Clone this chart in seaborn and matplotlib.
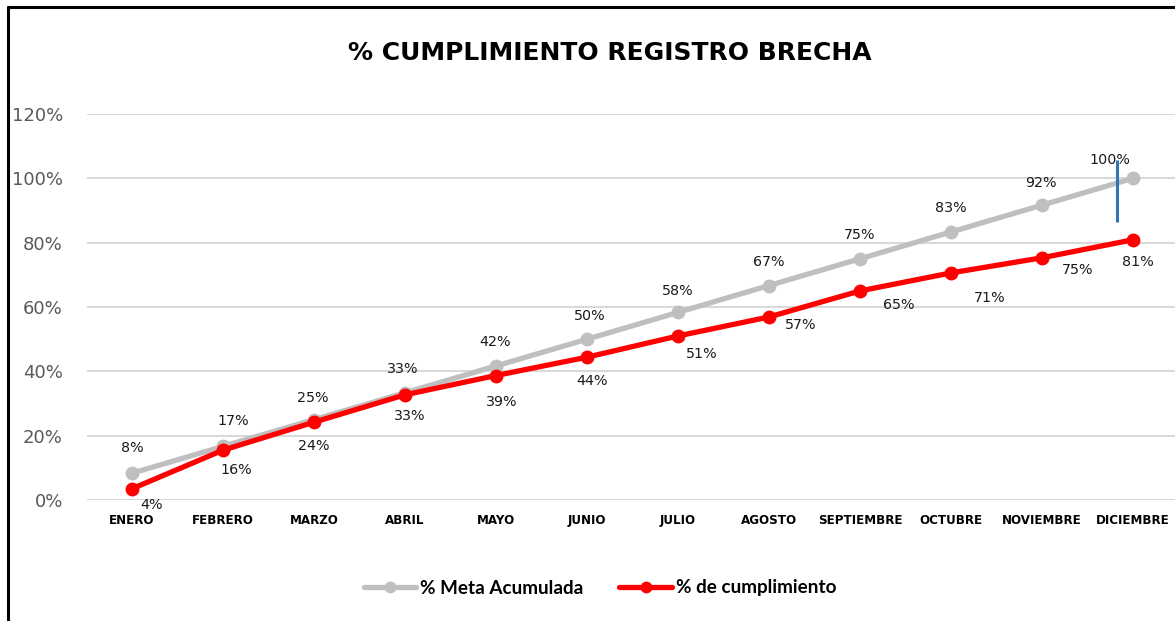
import matplotlib
matplotlib.use("Agg")
import matplotlib.pyplot as plt
from matplotlib.lines import Line2D
from matplotlib.ticker import FuncFormatter
import seaborn as sns
import pandas as pd

months = ["ENERO", "FEBRERO", "MARZO", "ABRIL", "MAYO", "JUNIO", "JULIO",
          "AGOSTO", "SEPTIEMBRE", "OCTUBRE", "NOVIEMBRE", "DICIEMBRE"]
meta = [8.33, 16.67, 25.0, 33.33, 41.67, 50.0, 58.33, 66.67, 75.0, 83.33, 91.67, 100.0]
cumpl = [3.5, 15.5, 24.2, 32.7, 38.7, 44.4, 51.0, 56.9, 65.0, 70.6, 75.3, 80.9]
meta_labels = ["8%", "17%", "25%", "33%", "42%", "50%", "58%", "67%", "75%", "83%", "92%", "100%"]
cumpl_labels = ["4%", "16%", "24%", "33%", "39%", "44%", "51%", "57%", "65%", "71%", "75%", "81%"]
series_names = ["% Meta Acumulada", "% de cumplimiento"]

sns.set_theme(style="white")
plt.rcParams["font.family"] = ["DejaVu Sans"]

fig = plt.figure(figsize=(11.75, 6.21), dpi=100)
ax = fig.add_axes([86.5 / 1175, 121 / 621, 1092 / 1175, 386 / 621])

idx = list(range(len(months)))
df = pd.DataFrame({
    "x": idx * 2,
    "y": meta + cumpl,
    "serie": [series_names[0]] * 12 + [series_names[1]] * 12,
})
palette = {series_names[0]: "#BFBFBF", series_names[1]: "#FF0000"}
sns.lineplot(data=df, x="x", y="y", hue="serie", palette=palette, marker="o",
             markersize=10, linewidth=3.8, markeredgewidth=0, ax=ax, legend=False)

ax.set_xlim(-0.5, 11.5)
ax.set_ylim(0, 120)
ax.set_yticks([0, 20, 40, 60, 80, 100, 120])
ax.yaxis.set_major_formatter(FuncFormatter(lambda v, p: f"{int(v)}%"))
ax.set_xticks(idx)
ax.set_xticklabels(months, fontsize=8.6, fontweight="bold", color="black")
ax.tick_params(axis="y", labelsize=13, labelcolor="#595959", length=0, pad=17)
ax.tick_params(axis="x", length=0, pad=10)
ax.grid(axis="y", color="#D9D9D9", linewidth=1.5)
ax.set_axisbelow(True)
for s in ax.spines.values():
    s.set_visible(False)
ax.set_xlabel("")
ax.set_ylabel("")

# data labels
meta_off = [(0, 25), (10, 25), (-1, 22), (-2, 24), (-1, 24), (3, 23), (0, 21),
            (0, 24), (0, 24), (0, 24), (-1, 22), (-23, 18)]
cumpl_off = [(20, -16), (13, -20), (0, -24), (5, -21), (6, -26), (5, -24), (24, -18),
             (32, -8), (39, -14), (39, -25), (36, -12), (5, -22)]
for i in idx:
    ax.annotate(meta_labels[i], (i, meta[i]), xytext=meta_off[i], textcoords="offset pixels",
                ha="center", va="center", fontsize=10.3, color="#1A1A1A")
    ax.annotate(cumpl_labels[i], (i, cumpl[i]), xytext=cumpl_off[i], textcoords="offset pixels",
                ha="center", va="center", fontsize=10.3, color="#1A1A1A")

# stray blue vertical line near DICIEMBRE
ax.plot([10.82, 10.82], [86.5, 105.8], color="#2E75B6", linewidth=2.2, solid_capstyle="butt")

fig.text(610 / 1175, 1 - 53 / 621, "% CUMPLIMIENTO REGISTRO BRECHA", ha="center", va="center",
         fontsize=18, fontweight="bold", color="black")

handles = [Line2D([], [], color=palette[n], marker="o", markersize=8.5, linewidth=3.8,
                  markeredgewidth=0) for n in series_names]
fig.legend(handles, series_names, loc="center", bbox_to_anchor=(600 / 1175, 1 - 588 / 621),
           ncol=2, frameon=False, handlelength=2.8, handletextpad=0.2, columnspacing=1.9,
           labelcolor="black", prop={"family": "Lato", "weight": "bold", "size": 13.6})

# border (left and top edges)
fig.add_artist(Line2D([7.5 / 1175, 7.5 / 1175], [0, 1 - 7 / 621], transform=fig.transFigure,
                      color="black", linewidth=2.2))
fig.add_artist(Line2D([7.5 / 1175, 1], [1 - 7 / 621, 1 - 7 / 621], transform=fig.transFigure,
                      color="black", linewidth=2.2))

fig.savefig("out.png", dpi=100)
